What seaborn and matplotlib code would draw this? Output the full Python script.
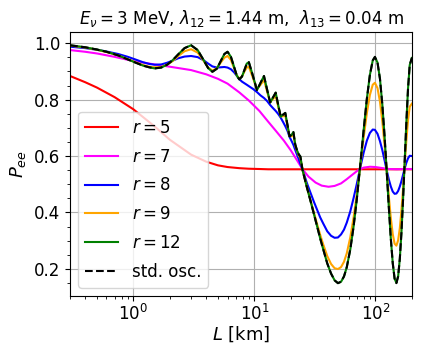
import matplotlib
matplotlib.use("Agg")
import matplotlib.pyplot as plt
from matplotlib.ticker import AutoMinorLocator
import seaborn as sns

# baseline (km) for the oscillating curves
L_osc = [0.3, 0.4, 0.5, 0.6, 0.75, 0.9, 1.05, 1.2, 1.35, 1.5, 1.7, 1.9, 2.1, 2.35, 2.65,
         3.0, 3.4, 3.8, 4.15, 4.5, 4.9, 5.3, 5.65, 6.0, 6.4, 6.8, 7.15, 7.5, 7.9, 8.3, 8.65,
         9.0, 9.75, 10.5, 11.25, 12.0, 12.75, 13.5, 14.25, 15.0, 15.75, 16.5, 17.25, 18.0,
         18.75, 19.5, 20.25, 21.0, 21.75, 22.5, 23.25, 24.0, 25, 27, 29, 31, 33, 35, 37, 40,
         43, 46, 49, 52, 55, 58, 62, 66, 70, 75, 80, 85, 90, 95, 99, 104, 109, 114, 119, 124,
         129, 134, 139, 144, 149, 154, 159, 164, 169, 174, 180, 186, 192, 200]

p_std = [0.993, 0.986, 0.978, 0.970, 0.957, 0.943, 0.931, 0.921, 0.915, 0.911, 0.914, 0.924, 0.939, 0.961, 0.983,
         0.993, 0.976, 0.941, 0.912, 0.899, 0.910, 0.939, 0.962, 0.970, 0.952, 0.916, 0.886, 0.872, 0.882, 0.907, 0.928,
         0.933, 0.883, 0.834, 0.860, 0.884, 0.835, 0.790, 0.808, 0.825, 0.780, 0.740, 0.747, 0.753,
         0.711, 0.670, 0.675, 0.685, 0.641, 0.620, 0.606, 0.598, 0.550, 0.493, 0.443, 0.395, 0.350, 0.307, 0.270, 0.219,
         0.183, 0.159, 0.149, 0.154, 0.173, 0.206, 0.269, 0.350, 0.443, 0.570, 0.694, 0.804, 0.888, 0.939, 0.952, 0.932, 0.874, 0.783, 0.670, 0.544,
         0.419, 0.307, 0.220, 0.165, 0.149, 0.173, 0.235, 0.328, 0.443, 0.570, 0.717, 0.841, 0.923, 0.949]

# r = 12 is indistinguishable from the standard curve at this resolution
p_r12 = [0.993, 0.986, 0.978, 0.970, 0.957, 0.943, 0.931, 0.921, 0.915, 0.911, 0.914, 0.924, 0.939, 0.961, 0.983,
         0.993, 0.976, 0.941, 0.912, 0.899, 0.910, 0.939, 0.962, 0.970, 0.952, 0.916, 0.886, 0.872, 0.882, 0.907, 0.928,
         0.933, 0.883, 0.834, 0.860, 0.884, 0.835, 0.790, 0.808, 0.825, 0.780, 0.740, 0.747, 0.753,
         0.711, 0.670, 0.675, 0.685, 0.641, 0.620, 0.606, 0.598, 0.550, 0.493, 0.443, 0.395, 0.350, 0.307, 0.270, 0.219,
         0.183, 0.159, 0.149, 0.154, 0.173, 0.206, 0.269, 0.350, 0.443, 0.570, 0.694, 0.804, 0.888, 0.939, 0.951, 0.932, 0.874, 0.783, 0.670, 0.544,
         0.419, 0.307, 0.220, 0.165, 0.150, 0.173, 0.235, 0.328, 0.443, 0.570, 0.717, 0.841, 0.923, 0.948]

p_r9 = [0.992, 0.985, 0.977, 0.969, 0.957, 0.944, 0.932, 0.923, 0.917, 0.915, 0.916, 0.924, 0.936, 0.955, 0.972,
        0.979, 0.967, 0.938, 0.914, 0.903, 0.912, 0.933, 0.949, 0.955, 0.941, 0.911, 0.886, 0.875, 0.883, 0.901, 0.914,
        0.917, 0.876, 0.837, 0.853, 0.870, 0.828, 0.792, 0.802, 0.814, 0.774, 0.741, 0.741, 0.744,
        0.706, 0.671, 0.670, 0.677, 0.637, 0.618, 0.602, 0.592, 0.552, 0.494, 0.445, 0.400, 0.358, 0.320, 0.287, 0.245,
        0.217, 0.202, 0.199, 0.206, 0.225, 0.255, 0.312, 0.382, 0.461, 0.567, 0.667, 0.753, 0.817, 0.853, 0.860, 0.841, 0.793, 0.723, 0.638, 0.546,
        0.457, 0.380, 0.323, 0.289, 0.282, 0.301, 0.344, 0.407, 0.482, 0.563, 0.654, 0.728, 0.775, 0.786]

p_r8 = [0.988, 0.983, 0.977, 0.971, 0.962, 0.952, 0.942, 0.933, 0.927, 0.924, 0.925, 0.931, 0.938, 0.947, 0.953,
        0.955, 0.951, 0.940, 0.928, 0.918, 0.914, 0.915, 0.916, 0.914, 0.908, 0.897, 0.885, 0.873, 0.864, 0.858, 0.853,
        0.848, 0.838, 0.827, 0.815, 0.806, 0.795, 0.781, 0.770, 0.760, 0.749, 0.736, 0.721, 0.706,
        0.690, 0.668, 0.654, 0.640, 0.622, 0.605, 0.589, 0.572, 0.553, 0.507, 0.471, 0.438, 0.409, 0.382, 0.361, 0.333,
        0.317, 0.310, 0.311, 0.322, 0.339, 0.364, 0.404, 0.451, 0.499, 0.560, 0.613, 0.655, 0.682, 0.694, 0.693, 0.679, 0.653, 0.621, 0.585, 0.549,
        0.517, 0.492, 0.474, 0.466, 0.467, 0.476, 0.492, 0.511, 0.533, 0.554, 0.576, 0.592, 0.601, 0.600]

# baseline (km) for the strongly damped curves
L_smooth = [0.3, 0.4, 0.5, 0.7, 1.0, 1.5, 2.0, 3.0, 4.0, 5.0, 6.0, 7.5, 9.0, 11, 13, 15, 17.5, 20,
            22.5, 25, 28, 32, 36, 41, 46, 52, 58, 65, 72, 80, 90, 100, 115, 130, 150, 170, 200]

p_r7 = [0.976, 0.970, 0.964, 0.952, 0.937, 0.925, 0.917, 0.905, 0.890, 0.874, 0.857, 0.826, 0.797, 0.760, 0.722, 0.690, 0.655, 0.620,
        0.585, 0.553, 0.527, 0.506, 0.495, 0.491, 0.494, 0.503, 0.518, 0.535, 0.550, 0.559, 0.562, 0.561, 0.557, 0.554, 0.553, 0.554, 0.554]

p_r5 = [0.884, 0.862, 0.843, 0.809, 0.766, 0.705, 0.658, 0.605, 0.580, 0.567, 0.561, 0.557, 0.555, 0.554, 0.553, 0.553, 0.553, 0.553,
        0.553, 0.553, 0.553, 0.553, 0.553, 0.553, 0.553, 0.553, 0.553, 0.553, 0.553, 0.553, 0.553, 0.553, 0.553, 0.553, 0.553, 0.553, 0.553]

fig, ax = plt.subplots(figsize=(4.22, 3.56), dpi=100)
fig.subplots_adjust(left=0.166, right=0.976, bottom=0.169, top=0.910)

sns.lineplot(x=L_smooth, y=p_r5, ax=ax, color="red", lw=1.5, label="$r = 5$")
sns.lineplot(x=L_smooth, y=p_r7, ax=ax, color="magenta", lw=1.5, label="$r = 7$")
sns.lineplot(x=L_osc, y=p_r8, ax=ax, color="blue", lw=1.5, label="$r = 8$")
sns.lineplot(x=L_osc, y=p_r9, ax=ax, color="orange", lw=1.5, label="$r = 9$")
sns.lineplot(x=L_osc, y=p_r12, ax=ax, color="green", lw=1.5, label="$r = 12$")
sns.lineplot(x=L_osc, y=p_std, ax=ax, color="black", lw=1.5, linestyle="--", label="std. osc.")

ax.set_xscale("log")
ax.set_xlim(0.3, 200)
ax.set_ylim(0.104, 1.04)
ax.yaxis.set_minor_locator(AutoMinorLocator(4))
ax.grid(True, which="major", color="#b0b0b0", lw=0.8)
ax.tick_params(labelsize=12)
ax.tick_params(axis="x", which="major", pad=2)

ax.set_xlabel("$L$ [km]", fontsize=13, labelpad=1)
ax.set_ylabel("$P_{ee}$", fontsize=13)
ax.set_title(r"$E_\nu = 3$ MeV, $\lambda_{12} = 1.44$ m,  $\lambda_{13} = 0.04$ m", fontsize=12)
ax.legend(loc="lower left", fontsize=12, labelspacing=0.65)

fig.savefig("out.png", dpi=100)
